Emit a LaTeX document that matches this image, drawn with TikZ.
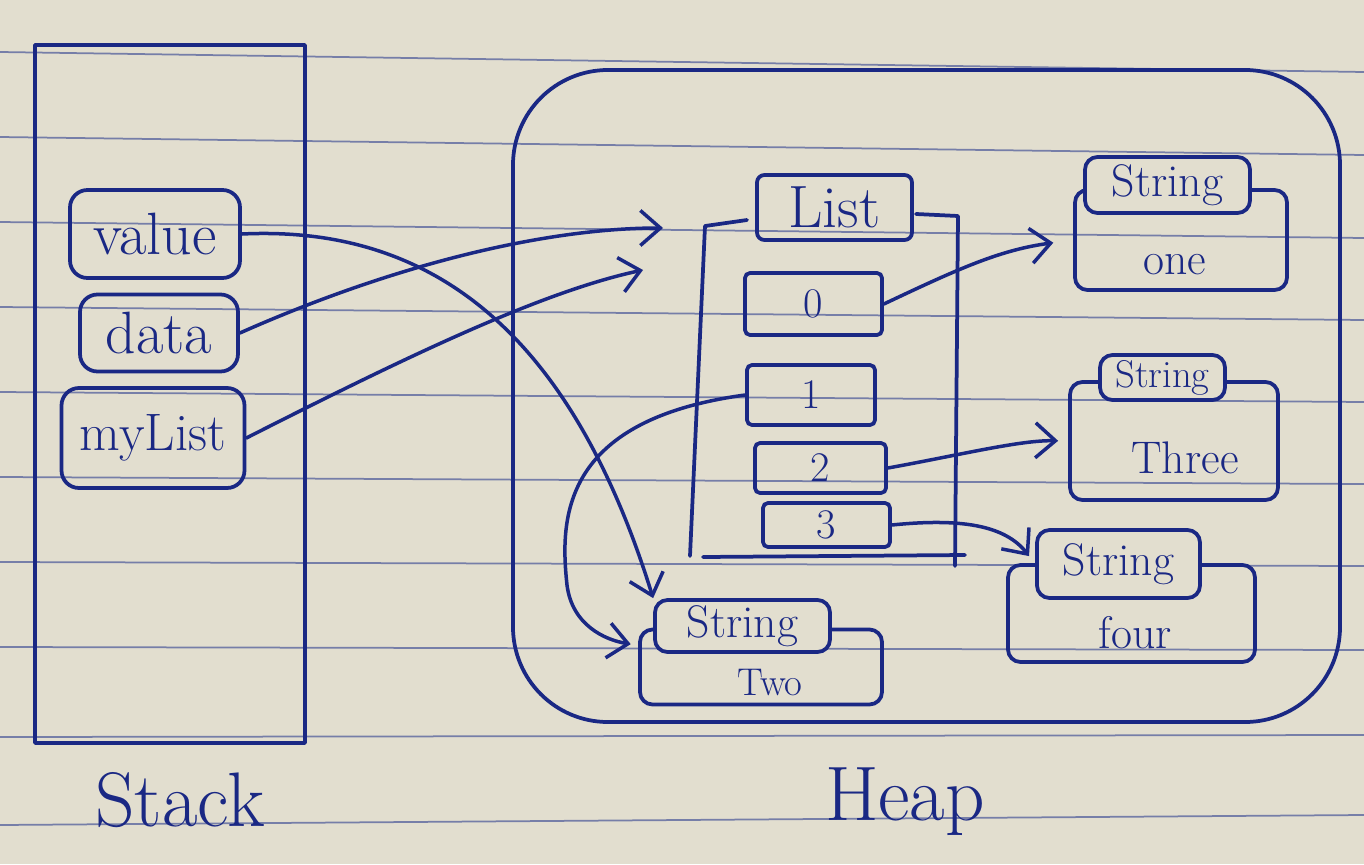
\documentclass[tikz,border=0pt]{standalone}
\usetikzlibrary{arrows.meta}
\definecolor{paper}{RGB}{226,222,207}
\definecolor{rulec}{RGB}{118,126,168}
\definecolor{inkc}{RGB}{26,40,132}
\begin{document}
\begin{tikzpicture}[x=0.2mm,y=-0.2mm,
  inkline/.style={draw=inkc,line width=0.75mm,line cap=round,line join=round},
  cell/.style={inkline,rounded corners=3.5mm,inner sep=0pt,text=inkc,font=\fontsize{34}{36}\selectfont},
  idx/.style={inkline,rounded corners=1mm,inner sep=0pt,text=inkc,font=\fontsize{24}{26}\selectfont},
  tagbox/.style={inkline,fill=paper,rounded corners=2.5mm,inner sep=0pt,text=inkc,font=\fontsize{26}{28}\selectfont},
  outerbox/.style={inkline,rounded corners=2.5mm,inner sep=0pt},
  lbl/.style={text=inkc,inner sep=0pt,font=\fontsize{26}{28}\selectfont},
  bigl/.style={text=inkc,inner sep=0pt,font=\fontsize{44}{46}\selectfont},
  container/.style={inkline,inner sep=0pt},
  ptr/.style={draw=inkc,line width=0.7mm,line cap=round,-{Straight Barb[length=4mm,width=7mm,line width=0.7mm]}}
]
% paper
\fill[paper] (0,0) rectangle (1364,864);
\useasboundingbox (0,0) rectangle (1364,864);
\foreach \a/\b in {52/72,137/155,222/238,307/320,392/402,477/484,562/566,647/650,737/735,825/815}
  \draw[rulec,line width=0.35mm] (0,\a) -- (1364,\b);

% stack
\node[container,minimum width=54mm,minimum height=139.6mm] (stack) at (170,394) {};
\node[bigl] (stacklbl) at (180,800) {Stack};
\node[cell,minimum width=34mm,minimum height=17.6mm] (value) at (155,234) {value};
\node[cell,minimum width=31.6mm,minimum height=15.4mm] (data) at (159,333) {data};
\node[cell,minimum width=36.6mm,minimum height=20mm,font=\fontsize{30}{32}\selectfont] (mylist) at (153,438) {myList};

% heap
\node[container,rounded corners=19mm,minimum width=165.4mm,minimum height=130.4mm] (heap) at (926.5,396) {};
\node[bigl] (heaplbl) at (905,802) {Heap};

% list object
\node[cell,rounded corners=1.5mm,minimum width=31mm,minimum height=13mm,font=\fontsize{34}{36}\selectfont] (list) at (834.5,207.5) {List};
\node[idx,minimum width=27.4mm,minimum height=12.4mm] (i0) at (813.5,304) {0};
\node[idx,minimum width=25.6mm,minimum height=12mm] (i1) at (811,395) {1};
\node[idx,minimum width=26.2mm,minimum height=10mm] (i2) at (820.5,468) {2};
\node[idx,minimum width=25.4mm,minimum height=8.8mm] (i3) at (826.5,525) {3};
\coordinate (lTLi) at (747,220);
\coordinate (lTL) at (705,226);
\coordinate (lBL) at (690,556);
\coordinate (lB0) at (703,557);
\coordinate (lB1) at (965,555);
\coordinate (lTRi) at (916,214);
\coordinate (lTR) at (958,216);
\coordinate (lBR) at (955,566);
\draw[inkline] (lTLi) -- (lTL) -- (lBL);
\draw[inkline] (lB0) -- (lB1);
\draw[inkline] (lTRi) -- (lTR) -- (lBR);

% strings
\node[outerbox,minimum width=42.4mm,minimum height=20mm] (oneBox) at (1181,240) {};
\node[tagbox,minimum width=33mm,minimum height=11.2mm] (oneTag) at (1167.5,185) {String};
\node[lbl] (oneTxt) at (1175,265) {one};

\node[outerbox,minimum width=41.6mm,minimum height=23.6mm] (threeBox) at (1174,441) {};
\node[tagbox,minimum width=25mm,minimum height=9mm,font=\fontsize{22}{24}\selectfont] (threeTag) at (1162.5,377.5) {String};
\node[lbl] (threeTxt) at (1185,458) {Three};

\node[outerbox,minimum width=49.4mm,minimum height=19.4mm] (fourBox) at (1131.5,613.5) {};
\node[tagbox,minimum width=32.6mm,minimum height=13.6mm] (fourTag) at (1118.5,564) {String};
\node[lbl] (fourTxt) at (1135,633) {four};

\node[outerbox,minimum width=48.4mm,minimum height=15mm] (twoBox) at (761,667) {};
\node[tagbox,minimum width=35mm,minimum height=10.4mm] (twoTag) at (742.5,626) {String};
\node[lbl,font=\fontsize{22}{24}\selectfont] (twoTxt) at (770,682) {Two};

% pointers
\coordinate (dataTip) at (663,228);
\coordinate (myTip) at (643,270);
\draw[ptr] (value.east) .. controls (430,225) and (570,330) .. (twoTag.north west);
\draw[ptr] (data.east) .. controls (400,262) and (550,228) .. (dataTip);
\draw[ptr] (mylist.east) .. controls (400,360) and (540,292) .. (myTip);
\draw[ptr,shorten >=4mm] (i0.east) .. controls (960,268) and (1000,250) .. (oneBox.west);
\draw[ptr,shorten >=2mm] (i2.east) .. controls (960,455) and (1020,440) .. (threeBox.west);
\draw[ptr,shorten >=2mm] (i3.east) .. controls (960,518) and (1005,525) .. (fourTag.west);
\draw[ptr,shorten >=1.5mm] (i1.west) .. controls (560,420) and (560,520) .. (567,585) .. controls (572,625) and (605,640) .. (twoBox.170);
\end{tikzpicture}
\end{document}
